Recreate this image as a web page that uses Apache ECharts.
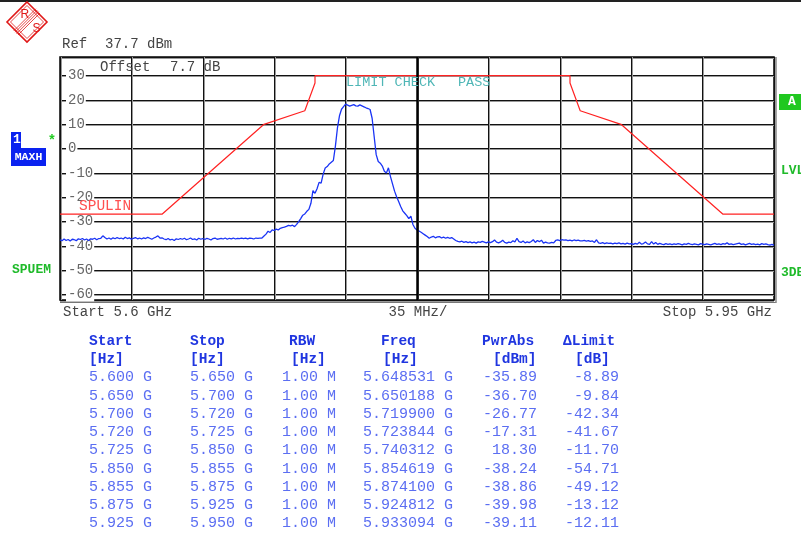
<!DOCTYPE html>
<html>
<head>
<meta charset="utf-8">
<script src="https://cdn.jsdelivr.net/npm/echarts@6/dist/echarts.min.js"></script>
<style>
html,body{margin:0;padding:0;background:#fff;}
#chart{width:801px;height:537px;}
</style>
</head>
<body>
<div id="chart"></div>
<script>
// ---- Data ----
const FREQ_START_MHZ = 5600;
const FREQ_STOP_MHZ = 5950;
const FREQ_STEP_MHZ = 1;     // sweep point spacing
const REF_LEVEL = 37.7;
const BOTTOM_LEVEL = -62.3;
const DIV_MHZ = 35;

// Max-hold trace (dBm), one value per MHz from 5600 to 5950 MHz
const traceValues = [
  -37.6,-37.9,-37.2,-37.8,-37.4,-38.0,-37.3,-37.5,-37.9,-37.1,
  -37.4,-37.0,-37.6,-37.2,-37.8,-37.1,-37.3,-36.9,-37.5,-37.0,
  -36.9,-35.9,-36.6,-37.2,-36.8,-37.3,-36.7,-37.1,-36.6,-37.0,
  -36.8,-37.2,-36.5,-37.0,-36.7,-37.3,-36.9,-36.6,-37.1,-36.8,
  -37.2,-36.7,-37.0,-36.5,-36.9,-37.3,-36.8,-36.4,-35.9,-36.8,
  -36.7,-37.2,-37.5,-37.0,-37.6,-37.3,-37.8,-37.1,-37.4,-37.0,
  -37.3,-36.9,-37.5,-37.2,-36.8,-37.4,-37.1,-37.6,-36.9,-37.3,
  -37.0,-37.4,-36.9,-37.2,-37.6,-37.0,-36.8,-37.3,-37.1,-36.9,
  -37.2,-36.8,-37.3,-36.9,-37.1,-36.8,-37.2,-36.9,-37.0,-36.8,
  -37.0,-36.8,-37.1,-36.8,-36.9,-37.2,-36.8,-36.9,-36.8,-36.8,
  -36.0,-35.2,-34.0,-34.5,-33.4,-33.7,-33.1,-33.5,-32.8,-32.5,
  -32.3,-32.0,-31.6,-31.8,-31.5,-32.1,-31.2,-30.0,-28.8,-27.4,
  -26.9,-25.8,-25.0,-22.5,-17.3,-18.4,-16.5,-13.9,-14.2,-10.5,
  -8.0,-7.4,-6.3,-5.6,-4.9,1.0,8.5,13.5,16.2,17.3,
  18.3,17.9,17.5,17.8,18.1,17.6,17.5,18.0,17.6,17.2,
  16.8,16.5,16.1,12.5,5.0,-2.5,-5.3,-6.0,-7.2,-9.3,
  -10.0,-7.9,-11.5,-14.5,-17.5,-19.8,-21.8,-23.8,-25.6,-26.6,
  -27.6,-28.8,-27.8,-31.2,-32.8,-33.5,-33.9,-34.4,-35.0,-35.6,
  -36.2,-36.9,-36.4,-36.1,-36.7,-36.3,-36.2,-36.8,-36.4,-36.9,
  -36.5,-36.9,-36.6,-37.2,-37.8,-38.2,-38.4,-38.1,-38.6,-38.3,
  -38.7,-38.4,-38.8,-38.5,-38.9,-38.4,-38.6,-38.2,-38.5,-38.8,
  -38.4,-38.7,-38.3,-37.6,-38.5,-38.8,-38.4,-37.7,-38.6,-38.9,
  -38.5,-38.7,-37.9,-38.4,-36.9,-38.3,-38.6,-38.0,-38.8,-38.4,
  -38.7,-38.2,-37.5,-38.6,-37.8,-38.3,-37.7,-38.9,-38.5,-38.8,
  -38.9,-38.6,-38.8,-37.8,-37.6,-37.9,-37.5,-37.7,-37.6,-37.9,
  -37.7,-38.0,-37.6,-37.9,-37.7,-38.0,-38.0,-37.8,-38.1,-37.9,
  -38.2,-38.0,-38.6,-37.5,-38.8,-39.0,-38.7,-39.1,-38.8,-39.0,
  -38.9,-39.2,-38.9,-39.1,-38.8,-39.2,-39.0,-39.3,-38.9,-39.2,
  -39.1,-39.4,-39.0,-39.3,-38.5,-39.3,-39.1,-38.4,-39.2,-39.4,
  -38.3,-39.3,-38.6,-39.4,-39.0,-39.3,-39.5,-39.1,-39.4,-39.2,
  -39.5,-39.2,-39.4,-39.1,-39.3,-39.6,-39.2,-39.4,-39.0,-39.3,
  -39.5,-39.2,-39.4,-39.6,-39.1,-39.3,-39.5,-39.2,-39.4,-39.6,
  -39.3,-39.0,-39.4,-39.2,-39.5,-39.1,-39.3,-38.8,-39.4,-39.2,
  -39.5,-39.3,-39.1,-38.9,-39.4,-39.2,-39.6,-39.3,-39.0,-39.4,
  -39.2,-39.5,-39.3,-39.6,-39.1,-39.4,-39.2,-39.5,-39.7,-39.4,
  -39.8
];

// Spectrum emission mask limit line (MHz, dBm)
const limitFreqs  = [5600, 5650, 5700, 5720, 5725, 5725, 5850, 5850, 5855, 5875, 5925, 5950];
const limitLevels = [ -27,  -27,   10, 15.6,   27,   30,   30,   27, 15.6,   10,  -27,  -27];

// Result table
const tableHeaders = ['Start', 'Stop', 'RBW', 'Freq', 'PwrAbs', '\u0394Limit'];
const tableUnits   = ['[Hz]', '[Hz]', '[Hz]', '[Hz]', '[dBm]', '[dB]'];
const colStart  = ['5.600 G','5.650 G','5.700 G','5.720 G','5.725 G','5.850 G','5.855 G','5.875 G','5.925 G'];
const colStop   = ['5.650 G','5.700 G','5.720 G','5.725 G','5.850 G','5.855 G','5.875 G','5.925 G','5.950 G'];
const colRbw    = ['1.00 M','1.00 M','1.00 M','1.00 M','1.00 M','1.00 M','1.00 M','1.00 M','1.00 M'];
const colFreq   = ['5.648531 G','5.650188 G','5.719900 G','5.723844 G','5.740312 G','5.854619 G','5.874100 G','5.924812 G','5.933094 G'];
const colPwrAbs = ['-35.89','-36.70','-26.77','-17.31','18.30','-38.24','-38.86','-39.98','-39.11'];
const colDelta  = ['-8.89','-9.84','-42.34','-41.67','-11.70','-54.71','-49.12','-13.12','-12.11'];

// ---- Build ----
const traceData = traceValues.map((v, i) => [FREQ_START_MHZ + i * FREQ_STEP_MHZ, v]);
const limitData = limitFreqs.map((f, i) => [f, limitLevels[i]]);

const MONO = "'Liberation Mono', 'Courier New', monospace";
const G = [];
function txt(text, x, y, o) {
  o = o || {};
  const align = o.align || 'left';
  G.push({
    type: 'text', x: x, y: y, z: 100, silent: true, rotation: o.rotation || 0,
    style: {
      text: text, fill: o.color || '#444',
      font: (o.weight || 'normal') + ' ' + (o.size || 14) + 'px ' + (o.family || MONO),
      textAlign: align, align: align, textVerticalAlign: 'middle', verticalAlign: 'middle'
    }
  });
}

// top dark rule
G.push({type: 'rect', shape: {x: 0, y: 0, width: 801, height: 2}, style: {fill: '#222'}, silent: true});

// R&S logo
const RS = '#e01818';
G.push({type: 'polygon', shape: {points: [[27,2],[47,22],[27,42],[7,22]]}, style: {fill: 'none', stroke: RS, lineWidth: 1.6}, silent: true});
G.push({type: 'polygon', shape: {points: [[27,5.5],[43.5,22],[27,38.5],[10.5,22]]}, style: {fill: 'none', stroke: RS, lineWidth: 0.8}, silent: true});
[-2.2, -0.8, 0.6, 2].forEach(d => {
  G.push({type: 'line', shape: {x1: 38 + d, y1: 11 + d, x2: 16 + d, y2: 33 + d}, style: {stroke: RS, lineWidth: 0.8}, silent: true});
});
txt('R', 20.5, 14.5, {color: RS, size: 12, family: "'Liberation Sans', Arial, sans-serif"});
txt('S', 32.5, 29, {color: RS, size: 12, family: "'Liberation Sans', Arial, sans-serif"});

// header texts
txt('Ref', 62, 44);
txt('37.7 dBm', 105, 44);
txt('Offset', 100, 67);
txt('7.7 dB', 170, 67);
txt('LIMIT CHECK', 346, 82, {color: '#4fb6b6', size: 13.5});
txt('PASS', 458, 82, {color: '#4fb6b6', size: 13.5});
txt('SPULIN', 79, 206, {color: '#ff5050', size: 14.5});

// bottom axis texts
txt('Start 5.6 GHz', 63, 312, {color: '#444'});
txt('35 MHz/', 418, 312, {color: '#444', align: 'center'});
txt('Stop 5.95 GHz', 772, 312, {color: '#444', align: 'right'});

// left side annotations
G.push({type: 'rect', shape: {x: 11, y: 132, width: 10, height: 17}, style: {fill: '#0a22f0'}, silent: true});
G.push({type: 'rect', shape: {x: 11, y: 148, width: 35, height: 18}, style: {fill: '#0a22f0'}, silent: true});
txt('1', 13, 140, {color: '#fff', size: 13, weight: 'bold'});
txt('MAXH', 28.5, 157.5, {color: '#fff', size: 11.5, weight: 'bold', align: 'center'});
txt('*', 52, 141, {color: '#22cc22', size: 14, weight: 'bold', align: 'center'});
txt('SPUEM', 12, 270, {color: '#1fba2a', size: 13, weight: 'bold'});

// right side annotations
G.push({type: 'rect', shape: {x: 779, y: 94, width: 22, height: 16}, style: {fill: '#20c820'}, silent: true});
txt('A', 792, 102, {color: '#fff', size: 13, weight: 'bold', align: 'center'});
txt('LVL', 781, 171, {color: '#1fba2a', size: 13, weight: 'bold'});
txt('3DB', 781, 273, {color: '#1fba2a', size: 13, weight: 'bold'});

// frame extras (double bottom / right edges)
G.push({type: 'line', shape: {x1: 60, y1: 302.5, x2: 776, y2: 302.5}, style: {stroke: '#777', lineWidth: 1}, silent: true});
G.push({type: 'line', shape: {x1: 776, y1: 57, x2: 776, y2: 303}, style: {stroke: '#888', lineWidth: 1.5}, silent: true});

// result table
const HDR = '#2036e0', VAL = '#5b6ef2';
const hdrX  = [89, 190, 289, 381, 482, 563];
const unitX = [89, 190, 291, 383, 493, 575];
tableHeaders.forEach((h, i) => txt(h, hdrX[i], 341, {color: HDR, size: 14.5, weight: 'bold'}));
tableUnits.forEach((u, i) => txt(u, unitX[i], 359.5, {color: HDR, size: 14.5, weight: 'bold'}));
for (let r = 0; r < colStart.length; r++) {
  const y = 377.5 + r * 18.25;
  txt(colStart[r], 89, y, {color: VAL, size: 15});
  txt(colStop[r], 190, y, {color: VAL, size: 15});
  txt(colRbw[r], 282, y, {color: VAL, size: 15});
  txt(colFreq[r], 363, y, {color: VAL, size: 15});
  txt(colPwrAbs[r], 537, y, {color: VAL, size: 15, align: 'right'});
  txt(colDelta[r], 619, y, {color: VAL, size: 15, align: 'right'});
}

const chart = echarts.init(document.getElementById('chart'), null, {renderer: 'canvas'});
chart.setOption({
  animation: false,
  backgroundColor: '#fff',
  grid: {left: 60, right: 27, top: 57, bottom: 237, show: true, borderColor: '#000', borderWidth: 1.5, backgroundColor: 'transparent'},
  xAxis: {
    type: 'value', min: FREQ_START_MHZ, max: FREQ_STOP_MHZ, interval: DIV_MHZ,
    axisLine: {show: false}, axisTick: {show: false}, axisLabel: {show: false},
    splitLine: {show: true, lineStyle: {color: '#111', width: 1, shadowColor: '#999', shadowOffsetX: 1, shadowBlur: 0}}
  },
  yAxis: {
    type: 'value', min: BOTTOM_LEVEL, max: REF_LEVEL, splitNumber: 10,
    axisLine: {show: false}, axisTick: {show: false},
    axisLabel: {
      inside: true, margin: 6, color: '#666', fontFamily: MONO, fontSize: 14,
      backgroundColor: '#fff', padding: [0, 1, 0, 2],
      formatter: function (v) { return Math.abs(v % 10) < 1e-6 ? String(Math.round(v)) : ''; }
    },
    splitLine: {show: true, lineStyle: {color: '#111', width: 1, shadowColor: '#999', shadowOffsetY: 1, shadowBlur: 0}}
  },
  series: [
    {
      name: 'Limit', type: 'line', data: limitData, showSymbol: false, symbol: 'none',
      lineStyle: {color: '#ff2222', width: 1.2}, z: 3, silent: true
    },
    {
      name: 'Trace', type: 'line', data: traceData, showSymbol: false, symbol: 'none',
      lineStyle: {color: '#1a34f5', width: 1.3}, z: 4, silent: true,
      markLine: {
        silent: true, symbol: 'none', label: {show: false},
        lineStyle: {color: '#000', width: 2.5, type: 'solid'},
        data: [{xAxis: 5775}]
      }
    }
  ],
  graphic: G
});
</script>
</body>
</html>
